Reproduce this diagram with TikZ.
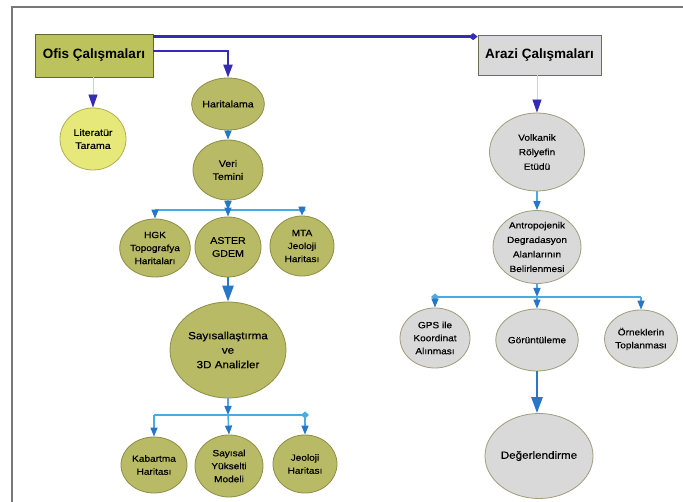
\documentclass[tikz,border=0pt]{standalone}
\usepackage{fontspec}
\setmainfont{Liberation Sans}
\newfontfamily\nf[FakeStretch=1.12,FakeBold=0.4]{Liberation Sans}
\usetikzlibrary{arrows.meta,shapes.geometric}
\definecolor{dblue}{RGB}{52,44,180}
\definecolor{lblue}{RGB}{72,172,226}
\definecolor{mblue}{RGB}{40,118,200}
\definecolor{gfill}{RGB}{184,186,102}
\definecolor{gdraw}{RGB}{140,142,70}
\definecolor{boxfill}{RGB}{188,194,92}
\definecolor{boxdraw}{RGB}{100,102,50}
\definecolor{yfill}{RGB}{230,233,122}
\definecolor{ydraw}{RGB}{176,176,80}
\definecolor{grfill}{RGB}{217,217,217}
\definecolor{grdraw}{RGB}{160,156,124}
\definecolor{framec}{RGB}{120,120,120}
\definecolor{faint}{RGB}{200,210,235}
\tikzset{
  topbox/.style={rectangle, draw=boxdraw, line width=0.8pt, inner sep=0pt,
    font=\fontsize{13.5}{16}\selectfont\bfseries},
  gnode/.style={ellipse, draw=gdraw, line width=0.8pt, fill=gfill, inner sep=0pt,
    align=center, font=\nf\fontsize{9}{13}\selectfont},
  ynode/.style={gnode, fill=yfill, draw=ydraw},
  grnode/.style={gnode, fill=grfill, draw=grdraw},
  tall/.style={font=\nf\fontsize{9}{14.5}\selectfont},
  bigtext/.style={font=\nf\fontsize{10.4}{14.5}\selectfont},
  midtext/.style={font=\nf\fontsize{9.5}{13}\selectfont},
  darkline/.style={dblue, line width=2.2pt},
  busline/.style={lblue, line width=1.5pt},
  faintline/.style={faint, line width=0.8pt},
  tipd/.style={-{Triangle[length=13pt,width=9pt,color=dblue]}},
  tipm/.style={-{Triangle[length=9pt,width=7pt,color=mblue]}},
  tipbig/.style={-{Triangle[length=16pt,width=11pt,color=mblue]}},
  dend/.style={-{Diamond[length=8pt,width=7pt,color=lblue]}},
  dendd/.style={-{Diamond[length=9pt,width=7pt,color=dblue]}},
}
\begin{document}
\begin{tikzpicture}[x=1pt,y=-1pt]
\useasboundingbox (0,0) rectangle (683,502);
\fill[white] (0,0) rectangle (683,502);
\draw[framec, line width=1.2pt] (12,502) -- (12,7) -- (683,7);

% top boxes
\node[topbox, fill=boxfill, minimum width=118pt, minimum height=43pt] (ofis) at (94,55.5) {Ofis Çalışmaları};
\node[topbox, fill=grfill, draw=grdraw!70!black, minimum width=123pt, minimum height=40pt] (arazi) at (539.5,55) {Arazi Çalışmaları};

% left column
\node[ynode, midtext, minimum width=66pt, minimum height=62pt] (lit) at (93,139) {Literatür\\Tarama};
\node[gnode, midtext, minimum width=70pt, minimum height=52pt] (harit) at (228,104) {Haritalama};
\node[gnode, midtext, minimum width=70pt, minimum height=60pt] (veri) at (228,170) {Veri\\Temini};
\node[gnode, minimum width=66pt, minimum height=58pt] (hgk) at (155,248) {HGK\\Topografya\\Haritaları};
\node[gnode, midtext, minimum width=66pt, minimum height=60pt] (aster) at (228,247) {ASTER\\GDEM};
\node[gnode, minimum width=64pt, minimum height=60pt] (mta) at (302,246) {MTA\\Jeoloji\\Haritası};
\node[gnode, bigtext, minimum width=116pt, minimum height=96pt] (say) at (228,350) {Sayısallaştırma\\ve\\3D Analizler};
\node[gnode, minimum width=66pt, minimum height=56pt] (kab) at (154,465) {Kabartma\\Haritası};
\node[gnode, minimum width=68pt, minimum height=62pt] (sym) at (229,466) {Sayısal\\Yükselti\\Modeli};
\node[gnode, minimum width=64pt, minimum height=58pt] (jeo) at (305,464) {Jeoloji\\Haritası};

% right column
\node[grnode, tall, minimum width=95pt, minimum height=78pt] (volk) at (537,152) {Volkanik\\Rölyefin\\Etüdü};
\node[grnode, tall, minimum width=88pt, minimum height=73pt] (antro) at (537,247) {Antropojenik\\Degradasyon\\Alanlarının\\Belirlenmesi};
\node[grnode, minimum width=70pt, minimum height=60pt] (gps) at (435,338) {GPS ile\\Koordinat\\Alınması};
\node[grnode, minimum width=68pt, minimum height=62pt] (gor) at (537,340) {Görüntüleme};
\node[grnode, minimum width=66pt, minimum height=58pt] (orn) at (641,339) {Örneklerin\\Toplanması};
\node[grnode, bigtext, minimum width=94pt, minimum height=85pt] (deg) at (539,456) {Değerlendirme};

% top connectors
\draw[darkline, dendd] ([yshift=-3pt]ofis.north east) -- ([yshift=-3pt]ofis.north east -| arazi.west);
\draw[darkline, tipd] ([yshift=4.5pt]ofis.east) -| (harit.north);
\draw[faintline, tipd] (ofis.south -| lit.north) -- (lit.north);
\draw[faintline, tipd] (arazi.south -| volk.north) -- (volk.north);

% left chain
\draw[busline, tipm] (harit.south) -- (veri.north);
\coordinate (b1) at (228,210);
\coordinate (b1l) at (155,210);
\coordinate (b1r) at (302,210);
\draw[busline, tipm] (veri.south) -- (b1);
\draw[busline, dend] (b1l) -- ([xshift=4pt]b1r);
\draw[busline, tipm] (b1l) -- (hgk.north);
\draw[busline, tipm] (b1) -- (aster.north);
\draw[busline, tipm] (b1r) -- (mta.north);
\draw[mblue, line width=2.5pt, tipbig] (aster.south) -- (say.north);

\coordinate (b2) at (228,415);
\coordinate (b2l) at (154,415);
\coordinate (b2r) at (305,415);
\draw[busline, tipm] (say.south) -- (b2);
\draw[busline, dend] (b2l) -- ([xshift=4pt]b2r);
\draw[busline, tipm] (b2l) -- (kab.north);
\draw[busline, tipm] (b2) -- (sym.north);
\draw[busline, tipm] (b2r) -- (jeo.north);

% right chain
\draw[busline, tipm] (volk.south) -- (antro.north);
\coordinate (b3) at (537,297);
\coordinate (b3l) at (435,297);
\coordinate (b3r) at (641,297);
\draw[busline, tipm] (antro.south) -- (b3);
\draw[busline, dend] (b3r) -- ([xshift=-4pt]b3l);
\draw[busline, tipm] (b3l) -- (gps.north);
\draw[busline, tipm] (b3) -- (gor.north);
\draw[busline, tipm] (b3r) -- (orn.north);
\draw[mblue, line width=2.5pt, tipbig] (gor.south) -- (gor.south |- deg.north);
\end{tikzpicture}
\end{document}
